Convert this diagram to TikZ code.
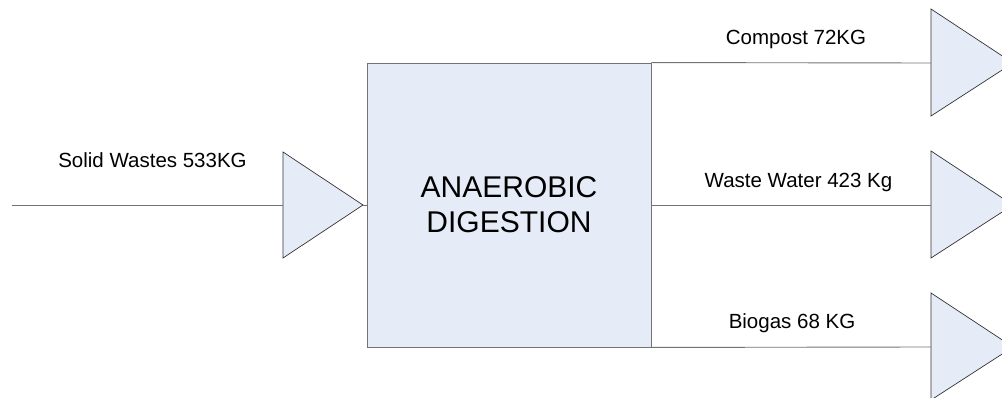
\documentclass[tikz,border=0pt]{standalone}
\usepackage{fontspec}
\setmainfont{Liberation Sans}
\usepackage{tikz}

\definecolor{digestfill}{RGB}{230,236,247}
\tikzset{
	flow/.style={draw=black!55, line width=0.9pt},
	tri/.style={draw=black!80, fill=digestfill, line width=0.7pt, line join=miter},
	lbl/.style={anchor=base, inner sep=0pt, font=\fontsize{20.5}{24}\selectfont},
}

\begin{document}
\begin{tikzpicture}[x=1pt, y=-1pt]
	\useasboundingbox (0,0) rectangle (1002,398);
	\clip (0,0) rectangle (1002,398);
	\node[draw=black!55, fill=digestfill, line width=0.9pt, minimum width=284pt, minimum height=284pt, align=center, font=\fontsize{30}{35}\selectfont] (digest) at (509,205) {ANAEROBIC\\DIGESTION};
	% feed triangle
	\coordinate (src) at (12,205);
	\coordinate (feedL) at (283,205);
	\coordinate (feedTip) at (363,205);
	\draw[tri] (283,152) -- (feedTip) -- (283,258) -- cycle;
	\draw[flow] (src) -- (feedL);
	\draw[flow] (feedTip) -- (digest.west);
	\node[lbl] (feedlbl) at (152.5,168) {Solid Wastes 533KG};
	% product triangles
	\foreach \y/\n in {63/1, 205/2, 347/3} {
		\coordinate (out\n) at (931,\y);
		\draw[tri] (931,\y-54) -- (1013,\y) -- (931,\y+53) -- cycle;
	}
	\draw[flow] (digest.north east) -- (out1);
	\draw[flow] (digest.east) -- (out2);
	\draw[flow] (digest.south east) -- (out3);
	\node[lbl] (lbl1) at (796,45) {Compost 72KG};
	\node[lbl] (lbl2) at (798.5,188) {Waste Water 423 Kg};
	\node[lbl] (lbl3) at (792,328) {Biogas 68 KG};
\end{tikzpicture}
\end{document}
